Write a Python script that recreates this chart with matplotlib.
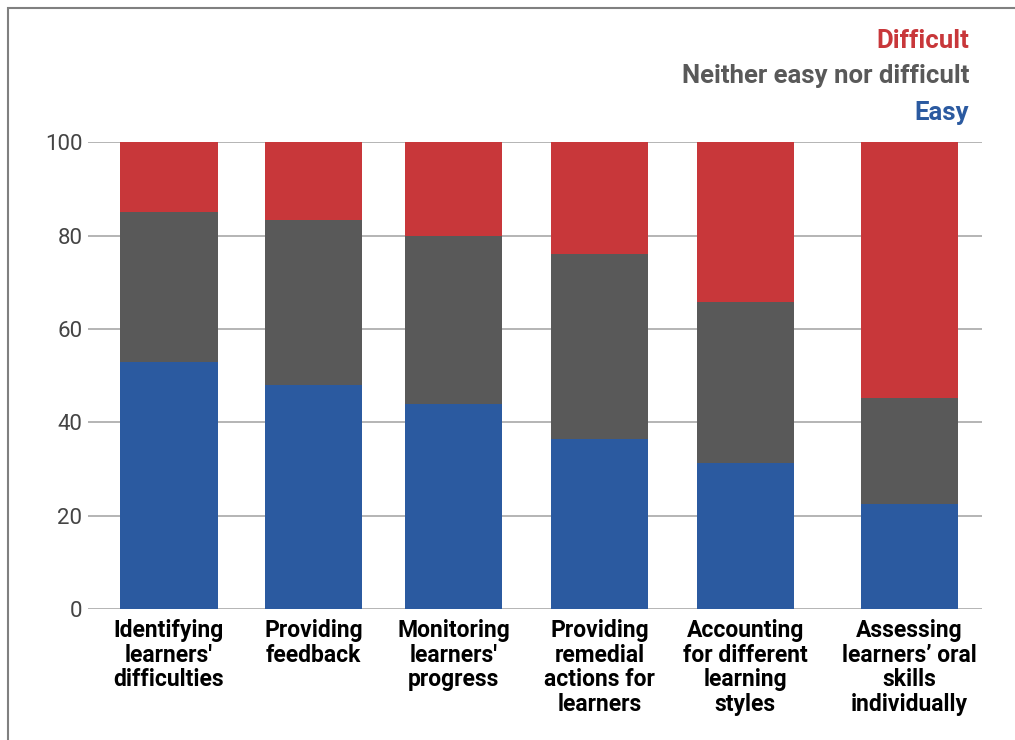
import matplotlib.pyplot as plt
from matplotlib.patches import Rectangle

categories = ["Identifying\nlearners'\ndifficulties", "Providing\nfeedback",
              "Monitoring\nlearners'\nprogress", "Providing\nremedial\nactions for\nlearners",
              "Accounting\nfor different\nlearning\nstyles", "Assessing\nlearners\u2019 oral\nskills\nindividually"]
easy = [53, 48, 44, 36.5, 31.3, 22.5]
neither = [32, 35.3, 36, 39.5, 34.4, 22.7]
difficult = [100 - e - n for e, n in zip(easy, neither)]

# bar centres (the original spacing is not quite even)
xpos = [0, 1.003, 1.976, 2.99, 4.003, 5.142]
width = 0.674

c_easy = '#2b5aa0'
c_neither = '#595959'
c_diff = '#c8373a'

font = ['Roboto', 'DejaVu Sans']

fig = plt.figure(figsize=(10.15, 7.4), dpi=100)
ax = fig.add_axes([0.0867, 0.177, 0.8808, 0.6307])

bottom2 = [e + n for e, n in zip(easy, neither)]
ax.bar(xpos, easy, width, color=c_easy, zorder=3)
ax.bar(xpos, neither, width, bottom=easy, color=c_neither, zorder=3)
ax.bar(xpos, difficult, width, bottom=bottom2, color=c_diff, zorder=3)

ax.set_xlim(-0.5625, 5.646)
ax.set_ylim(0, 100)
ax.set_yticks([0, 20, 40, 60, 80, 100])
ax.yaxis.grid(True, color='#a0a0a0', linewidth=1.1, zorder=0)
for s in ax.spines.values():
    s.set_visible(False)
ax.tick_params(axis='y', length=0, pad=4, labelsize=16, labelcolor='#444444')
ax.tick_params(axis='x', length=0, pad=7)
for lab in ax.get_yticklabels():
    lab.set_family(font)
ax.set_xticks(xpos)
ax.set_xticklabels(categories, fontsize=16.5, fontweight='bold', family=font,
                   linespacing=1.1, va='top')

# legend as coloured text, top right
fig.text(0.955, 0.935, 'Difficult', color=c_diff, fontsize=18.5, fontweight='bold',
         family=font, ha='right', va='baseline')
fig.text(0.955, 0.888, 'Neither easy nor difficult', color=c_neither, fontsize=18.5,
         fontweight='bold', family=font, ha='right', va='baseline')
fig.text(0.955, 0.838, 'Easy', color=c_easy, fontsize=18.5, fontweight='bold',
         family=font, ha='right', va='baseline')

# thin frame round the picture
fig.patches.append(Rectangle((8 / 1015, -0.1), 1.2, 1 - 8 / 740 + 0.1,
                             transform=fig.transFigure, fill=False,
                             edgecolor='#808080', linewidth=1.5))

fig.savefig('out.png', dpi=100)
